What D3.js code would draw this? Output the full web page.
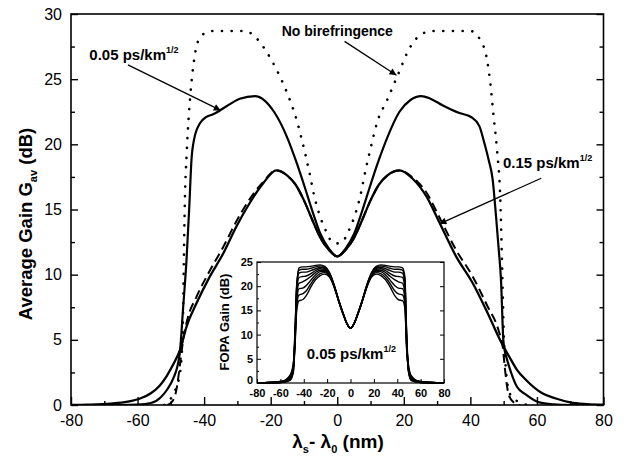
<!DOCTYPE html>
<html>
<head>
<meta charset="utf-8">
<script src="https://cdn.jsdelivr.net/npm/d3@7"></script>
<style>
  body { margin: 0; background: #fff; }
  text { font-family: "Liberation Sans", Arial, sans-serif; }
</style>
</head>
<body>
<svg id="chart" width="628" height="457"></svg>
<script>
// ---- data: [detuning nm, gain dB] ----
const noBirefringence = [[-52,0],[-50.5,0.3],[-49,1.0],[-48,1.6],[-47,3],[-46.4,6],[-46.1,11],[-45.8,15.5],[-45.2,19.5],[-44.2,23.6],[-43,26.5],[-42,27.8],[-40,28.5],[-37.3,28.7],[-27.7,28.7],[-25.3,28.4],[-22,27.4],[-19.2,26.2],[-16.5,24.8],[-14.1,23.3],[-12,21.7],[-10.5,20.2],[-8.5,18.0],[-6.8,15.9],[-5.6,14.8],[-4.5,14.0],[-3.3,13.3],[-1.5,12.5],[0,12.4],[1.5,12.5],[3.3,13.3],[4.5,14.0],[5.6,14.8],[6.8,15.9],[8.5,18.0],[10.5,20.2],[12,21.7],[15,23.4],[18,25.2],[22,27.5],[25.6,28.5],[28.9,28.7],[40,28.7],[43,28.0],[45,26.5],[46,24.7],[47,22.1],[48,19.6],[49,15.7],[49.6,10],[50.1,5],[50.6,3],[51.2,1.5],[52.5,0.6],[55,0.2],[57,0]];

const pmd005 = [[-80,0],[-65,0],[-60,0.03],[-56,0.15],[-53,0.6],[-51.2,1.15],[-49,2.2],[-48,3.0],[-47.3,4.0],[-46.3,7.5],[-45.3,11.1],[-44.5,15],[-43.8,18.8],[-43,20.4],[-41.3,21.6],[-39.3,22.1],[-37.3,22.3],[-33.4,22.9],[-29.3,23.5],[-24.7,23.7],[-22,23.4],[-19,22.5],[-15,20.5],[-12.5,18.8],[-10,16.9],[-7.5,14.9],[-5,13.1],[-2.5,12.0],[0,11.4],[2.5,12.0],[5,13.1],[7.5,14.9],[10,16.9],[12.5,18.8],[15,20.5],[18.7,22.5],[22,23.4],[25.2,23.7],[28,23.5],[31.6,23.0],[36.7,22.4],[40.2,22.1],[42.7,21.4],[44.2,20.1],[45.5,18.8],[46.7,17.3],[47.7,14.5],[48.5,12],[49.2,9.6],[49.9,5],[50.3,4.2],[51,3.5],[52.5,2.3],[54,1.4],[56.7,0.8],[60.7,0.2],[65,0.05],[70,0],[80,0]];

const pmd015 = [[-80,0],[-75,0.02],[-68,0.1],[-63,0.25],[-59.2,0.5],[-56,0.9],[-53.3,1.5],[-51.3,2.2],[-49.3,3.1],[-47.3,4.2],[-45.3,6.0],[-42.3,7.8],[-38.3,9.85],[-34.3,11.6],[-30.3,13.7],[-26.3,15.5],[-22.3,17.0],[-18.3,18.0],[-15,17.6],[-12.5,16.9],[-10,15.7],[-7.5,14.2],[-5,12.8],[-2.5,11.9],[0,11.4],[2.5,11.9],[5,12.8],[7.5,14.2],[10,15.7],[12.5,16.9],[15,17.6],[18.7,18.0],[22.5,17.4],[26.8,16.0],[30.7,14.0],[35.7,11.4],[40.6,9.4],[45.1,7.1],[49.3,4.8],[51.7,3.7],[54,2.7],[56.8,1.9],[61.6,0.9],[65.7,0.5],[70,0.2],[75,0.07],[80,0.02]];

const pmd015Approx = [[-51,0],[-49.5,0.3],[-48.3,1.2],[-47.3,3.0],[-46.3,5.0],[-45,6.6],[-42.3,8.3],[-38.3,10.3],[-34.3,12.1],[-30.3,14.1],[-26.3,15.8],[-22.3,17.1],[-18.3,18.0],[-15,17.6],[-12.5,16.9],[-10,15.7],[-7.5,14.2],[-5,12.8],[-2.5,11.9],[0,11.4],[2.5,11.9],[5,12.8],[7.5,14.2],[10,15.7],[12.5,16.9],[15,17.6],[18.7,18.0],[22.5,17.5],[26.8,16.3],[30.7,14.4],[35.7,11.9],[40.6,9.9],[45.1,7.6],[48.5,5.7],[49.7,4.5],[50.5,2.5],[51.5,0.8],[53,0.2],[55,0]];

// inset: individual FOPA gain realisations, 0.05 ps/km^1/2
const insetNm = [-80,-60,-52,-49,-47.5,-46,-44,-41,-38,-34,-30,-26,-22,-18,-14,-10,-6,-3,0,3,6,10,14,18,22,26,30,34,38,41,44.5,46.5,48,49.5,52,60,80];
const insetGain1 = [0,0.1,0.5,2,8,20,23.8,24.0,24.0,24.1,24.3,24.4,24.1,22.8,20.3,17.1,14.2,12.3,11.3,12.3,14.2,17.1,20.3,22.8,24.1,24.4,24.3,24.1,24.0,24.0,23.8,22,10,2.5,0.5,0.1,0];
const insetGain2 = [0,0.2,0.8,2.5,10,20.5,23.3,23.5,23.5,23.7,24.0,24.2,23.9,22.7,20.2,17.0,14.2,12.3,11.3,12.3,14.2,17.0,20.2,22.7,23.9,24.2,24.0,23.7,23.5,23.5,23.3,21.5,11,3,0.8,0.2,0];
const insetGain3 = [0,0.1,1.0,3,11,20.0,22.7,22.9,22.9,23.2,23.6,23.9,23.7,22.6,20.1,17.0,14.1,12.2,11.3,12.2,14.1,17.0,20.1,22.6,23.7,23.9,23.6,23.2,22.9,22.9,22.7,20.5,10,3,1.0,0.1,0];
const insetGain4 = [0,0.3,1.2,3.5,10,19.0,21.8,22.0,22.1,22.6,23.2,23.6,23.5,22.5,20.1,16.9,14.1,12.2,11.3,12.2,14.1,16.9,20.1,22.5,23.5,23.6,23.2,22.6,22.1,22.0,21.8,19.5,9,3.5,1.2,0.3,0];
const insetGain5 = [0,0.1,0.6,2.5,9,18.0,20.6,20.9,21.3,22.0,22.8,23.3,23.3,22.4,20.0,16.9,14.1,12.2,11.3,12.2,14.1,16.9,20.0,22.4,23.3,23.3,22.8,22.0,21.3,20.9,20.6,18.5,8.5,2.5,0.6,0.1,0];
const insetGain6 = [0,0.2,1.5,4,9,17,19.5,19.6,20.1,21.2,22.3,23.0,23.1,22.3,20.0,16.9,14.1,12.2,11.3,12.2,14.1,16.9,20.0,22.3,23.1,23.0,22.3,21.2,20.1,19.6,19.5,17.5,8,4,1.5,0.2,0];
const insetGain7 = [0,0.3,1.0,3,8,16,18.2,18.4,19.0,20.5,21.8,22.6,22.8,22.1,19.9,16.8,14.0,12.2,11.3,12.2,14.0,16.8,19.9,22.1,22.8,22.6,21.8,20.5,19.0,18.4,18.2,16.5,7.5,3,1.0,0.3,0];
const insetGain8 = [0,0.1,0.8,3,7.5,15,17.0,17.2,18.0,19.8,21.3,22.2,22.5,21.9,19.8,16.8,14.0,12.2,11.3,12.2,14.0,16.8,19.8,21.9,22.5,22.2,21.3,19.8,18.0,17.2,17.0,15.5,7,3,0.8,0.1,0];

const xTicks = [-80,-60,-40,-20,0,20,40,60,80];
const yTicks = [0,5,10,15,20,25,30];
const insetYTicks = [0,5,10,15,20,25];

// annotations, positions in data units
const notes = [
  {at: [-74.5, 26.5], text: "0.05 ps/km", sup: "1/2", from: [-62.9, 26.1], to: [-35.0, 22.6]},
  {at: [-16.7, 28.3], text: "No birefringence", from: [2.2, 27.9], to: [17.8, 25.3]},
  {at: [49.8, 18.2], text: "0.15 ps/km", sup: "1/2", from: [61.3, 17.4], to: [30.7, 13.9]}
];

const svg = d3.select("#chart");
const x = d3.scaleLinear().domain([-80, 80]).range([71, 603.5]);
const y = d3.scaleLinear().domain([0, 30]).range([405, 14]);
const plain = d => String(d);   // hyphen minus, like the original

svg.append("defs").append("clipPath").attr("id", "plotClip")
  .append("rect").attr("x", x(-80)).attr("y", y(30))
  .attr("width", x(80) - x(-80)).attr("height", y(0) - y(30));

svg.select("defs").append("marker")
  .attr("id", "arrow").attr("viewBox", "0 0 10 10")
  .attr("refX", 10).attr("refY", 5)
  .attr("markerWidth", 10).attr("markerHeight", 7)
  .attr("markerUnits", "userSpaceOnUse")
  .attr("orient", "auto")
  .append("path").attr("d", "M0,0 L10,5 L0,10 z").attr("fill", "#000");

const line = d3.line().x(d => x(d[0])).y(d => y(d[1])).curve(d3.curveMonotoneX);

const curves = svg.append("g").attr("clip-path", "url(#plotClip)").attr("fill", "none").attr("stroke", "#000");
curves.append("path").attr("d", line(pmd015Approx))
  .attr("stroke-width", 2).attr("stroke-dasharray", "9 5");
curves.append("path").attr("d", line(pmd015)).attr("stroke-width", 2.3);
curves.append("path").attr("d", line(pmd005)).attr("stroke-width", 2.2);
curves.append("path").attr("d", line(noBirefringence))
  .attr("stroke-width", 2.6).attr("stroke-linecap", "round").attr("stroke-dasharray", "0.1 9.6");

// frame
svg.append("rect")
  .attr("x", x(-80)).attr("y", y(30))
  .attr("width", x(80) - x(-80)).attr("height", y(0) - y(30))
  .attr("fill", "none").attr("stroke", "#000").attr("stroke-width", 1.6);

// axes with inward ticks
function styleAxis(g, size) {
  g.select(".domain").remove();
  g.selectAll("line").attr("stroke", "#000").attr("stroke-width", 1.4);
  g.selectAll("text").attr("font-family", "'Liberation Sans', Arial, sans-serif")
    .attr("font-size", size).attr("fill", "#000");
}
svg.append("g").attr("transform", `translate(0,${y(0)})`)
  .call(d3.axisBottom(x).tickValues(xTicks).tickSize(-8).tickPadding(10).tickFormat(plain))
  .call(g => styleAxis(g, 16));
svg.append("g").attr("transform", `translate(0,${y(0)})`)
  .call(d3.axisBottom(x).tickValues(d3.range(-70, 80, 20)).tickSize(-4).tickFormat(""))
  .call(g => styleAxis(g, 16));
svg.append("g").attr("transform", `translate(${x(-80)},0)`)
  .call(d3.axisLeft(y).tickValues(yTicks).tickSize(-7).tickPadding(9).tickFormat(plain))
  .call(g => styleAxis(g, 16));
svg.append("g").attr("transform", `translate(${x(-80)},0)`)
  .call(d3.axisLeft(y).tickValues(d3.range(2.5, 30, 5)).tickSize(-4).tickFormat(""))
  .call(g => styleAxis(g, 16));
svg.append("g").attr("transform", `translate(${x(80)},0)`)
  .call(d3.axisRight(y).tickValues(yTicks).tickSize(-7).tickFormat(""))
  .call(g => styleAxis(g, 16));
svg.append("g").attr("transform", `translate(${x(80)},0)`)
  .call(d3.axisRight(y).tickValues(d3.range(2.5, 30, 5)).tickSize(-4).tickFormat(""))
  .call(g => styleAxis(g, 16));

// axis titles
const yTitle = svg.append("text")
  .attr("transform", "translate(32,224) rotate(-90)")
  .attr("text-anchor", "middle").attr("font-size", 18.5).attr("font-weight", "bold");
yTitle.append("tspan").text("Average Gain G");
yTitle.append("tspan").attr("font-size", 11).attr("dy", 5).text("av");
yTitle.append("tspan").attr("dy", -5).text(" (dB)");

const xTitle = svg.append("text")
  .attr("x", 338).attr("y", 448)
  .attr("text-anchor", "middle").attr("font-size", 19).attr("font-weight", "bold");
xTitle.append("tspan").text("λ");
xTitle.append("tspan").attr("font-size", 11).attr("dy", 5).text("s");
xTitle.append("tspan").attr("dy", -5).text("- λ");
xTitle.append("tspan").attr("font-size", 11).attr("dy", 5).text("0");
xTitle.append("tspan").attr("dy", -5).text(" (nm)");

// annotations
notes.forEach(n => {
  const t = svg.append("text").attr("x", x(n.at[0])).attr("y", y(n.at[1]))
    .attr("font-weight", "bold").attr("font-size", n.sup ? 15 : 14);
  t.append("tspan").text(n.text);
  if (n.sup) t.append("tspan").attr("font-size", 9).attr("dy", -7).text(n.sup);
  svg.append("line")
    .attr("x1", x(n.from[0])).attr("y1", y(n.from[1]))
    .attr("x2", x(n.to[0])).attr("y2", y(n.to[1]))
    .attr("stroke", "#000").attr("stroke-width", 1.3)
    .attr("marker-end", "url(#arrow)");
});

// ---- inset ----
const xi = d3.scaleLinear().domain([-80, 80]).range([257, 444]);
const yi = d3.scaleLinear().domain([0, 25]).range([383, 262]);
const inset = svg.append("g");
inset.append("rect").attr("x", xi(-80)).attr("y", yi(25))
  .attr("width", xi(80) - xi(-80)).attr("height", yi(0) - yi(25)).attr("fill", "#fff");

const insetLine = d3.line().x(d => xi(d[0])).y(d => yi(d[1])).curve(d3.curveMonotoneX);
[insetGain1, insetGain2, insetGain3, insetGain4, insetGain5, insetGain6, insetGain7, insetGain8]
  .forEach(g => {
    inset.append("path").attr("d", insetLine(insetNm.map((v, i) => [v, g[i]])))
      .attr("fill", "none").attr("stroke", "#000").attr("stroke-width", 1.4);
  });

inset.append("rect").attr("x", xi(-80)).attr("y", yi(25))
  .attr("width", xi(80) - xi(-80)).attr("height", yi(0) - yi(25))
  .attr("fill", "none").attr("stroke", "#000").attr("stroke-width", 1.2);

function styleInset(g) {
  g.select(".domain").remove();
  g.selectAll("line").attr("stroke", "#000").attr("stroke-width", 1);
  g.selectAll("text").attr("font-family", "'Liberation Sans', Arial, sans-serif")
    .attr("font-size", 11).attr("font-weight", "bold").attr("fill", "#000");
}
inset.append("g").attr("transform", `translate(0,${yi(0)})`)
  .call(d3.axisBottom(xi).tickValues(xTicks).tickSize(-4).tickPadding(6).tickFormat(plain))
  .call(styleInset);
inset.append("g").attr("transform", `translate(${xi(-80)},0)`)
  .call(d3.axisLeft(yi).tickValues(insetYTicks).tickSize(-4).tickPadding(4).tickFormat(plain))
  .call(styleInset)
  .call(g => g.selectAll(".tick text").filter(d => d === 0).attr("dy", "0.05em"));
inset.append("g").attr("transform", `translate(${xi(-80)},0)`)
  .call(d3.axisLeft(yi).tickValues(d3.range(2.5, 25, 5)).tickSize(-2).tickFormat(""))
  .call(styleInset);
inset.append("g").attr("transform", `translate(${xi(80)},0)`)
  .call(d3.axisRight(yi).tickValues(insetYTicks).tickSize(-4).tickFormat(""))
  .call(styleInset);

inset.append("text")
  .attr("transform", "translate(229,322) rotate(-90)")
  .attr("text-anchor", "middle").attr("font-size", 13).attr("font-weight", "bold")
  .text("FOPA Gain (dB)");

const insetNote = inset.append("text").attr("x", xi(-37.5)).attr("y", yi(5.0))
  .attr("font-weight", "bold").attr("font-size", 15);
insetNote.append("tspan").text("0.05 ps/km");
insetNote.append("tspan").attr("font-size", 9).attr("dy", -7).text("1/2");
</script>
</body>
</html>
